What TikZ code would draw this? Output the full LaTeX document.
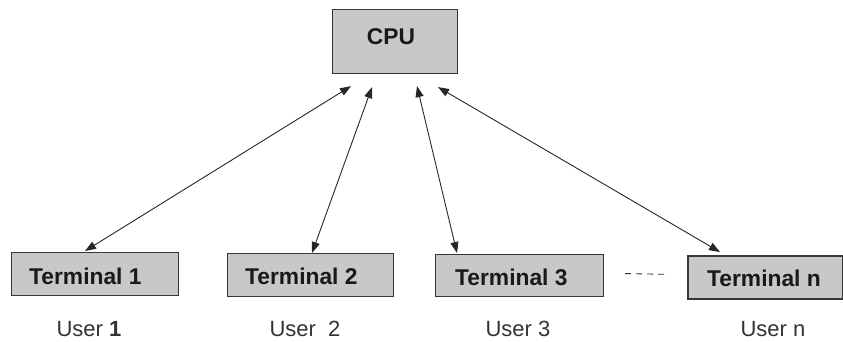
\documentclass[tikz,border=0pt]{standalone}
\usepackage{fontspec}
\setmainfont{Liberation Sans}
\usetikzlibrary{arrows.meta,calc}
\definecolor{boxfill}{RGB}{200,200,200}
\definecolor{boxline}{RGB}{55,55,55}
\begin{document}
\begin{tikzpicture}[x=1pt,y=-1pt,
  box/.style={draw=boxline,fill=boxfill,line width=1.1pt,inner sep=0pt,anchor=north west},
  boxtext/.style={font=\fontsize{22.8}{26}\selectfont\bfseries,text=black!90,inner sep=0pt},
  usertext/.style={font=\fontsize{22}{25}\selectfont,text=black!80,inner sep=0pt,anchor=base},
  link/.style={draw=black!85,line width=0.9pt,{Triangle[length=11pt,width=8pt]}-{Triangle[length=11pt,width=8pt]}}]
  \useasboundingbox (0,0) rectangle (843,341);

  % central processor and the terminals
  \node[box,minimum width=125pt,minimum height=64pt] (cpu) at (332,9) {};
  \node[box,minimum width=167pt,minimum height=43pt] (t1) at (11,252) {};
  \node[box,minimum width=166pt,minimum height=43pt] (t2) at (227,253) {};
  \node[box,minimum width=168pt,minimum height=42pt] (t3) at (435,254) {};
  \node[box,minimum width=155pt,minimum height=43pt,line width=1.7pt] (tn) at (687,255) {};

  % box captions
  \node[boxtext,anchor=base] at (391,44) {CPU};
  \node[boxtext,anchor=base west] at (29,284) {Terminal 1};
  \node[boxtext,anchor=base west] at (245,284) {Terminal 2};
  \node[boxtext,anchor=base west] at (455,285) {Terminal 3};
  \node[boxtext,anchor=base west] at (707,286) {Terminal n};

  % user names
  \node[usertext] at (89,336) {User \textbf{1}};
  \node[usertext] at (305,336) {User\ \ 2};
  \node[usertext] at (518,336) {User 3};
  \node[usertext] at (773,336) {User n};

  % two-way links between the CPU and each terminal
  \draw[link] ($(cpu.south west)+(19,12)$) -- ($(t1.north west)+(74,-1)$);
  \draw[link] ($(cpu.south west)+(40,13)$) -- ($(t2.north west)+(85,0)$);
  \draw[link] ($(cpu.south west)+(85,12)$) -- ($(t3.north west)+(22,-1)$);
  \draw[link] ($(cpu.south west)+(106,13)$) -- ($(tn.north west)+(33,-3)$);

  % further terminals left out
  \draw[black!80,line width=0.9pt,dash pattern=on 6pt off 5pt]
    ($(t3.east)+(21,-2)$) -- ($(tn.west)+(-20,-3)$);
\end{tikzpicture}
\end{document}
